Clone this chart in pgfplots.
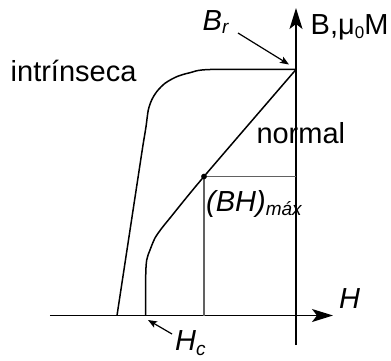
\documentclass[border=0pt]{standalone}
\usepackage{fontspec}
\setmainfont{Liberation Sans}
\usepackage{pgfplots}
\pgfplotsset{compat=1.18}
\usetikzlibrary{arrows.meta}

% demagnetisation curves in the second quadrant
\newcommand{\lbl}{\fontsize{29}{33}\selectfont}
\newcommand{\sub}[2][4pt]{\raisebox{-#1}{\fontsize{19}{19}\selectfont #2}}

\begin{document}
\begin{tikzpicture}
\begin{axis}[
  scale only axis,
  width=283pt, height=337pt,
  xmin=-246, xmax=37, ymin=-29.5, ymax=307.5,
  enlargelimits=false,
  axis lines=middle,
  axis line style={line width=1.6pt, -{Stealth[length=21pt,width=13pt,inset=5pt]}},
  ticks=none,
  clip=false,
]
% intrinsic curve (mu0 M)
\addplot[line width=1.5pt, smooth, tension=0.5] coordinates {
  (0,246) (-86,246) (-106,242.8) (-119.3,238.8) (-131,232.2) (-139.3,223.8)
  (-144.3,215.5) (-147.7,205.5) (-150,188.8) (-152.7,172.2) (-155.3,155.5)
  (-179,0)
};
% normal curve (B)
\addplot[line width=1.5pt, smooth, tension=0.5] coordinates {
  (0,246) (-92,139) (-126,97.5) (-134.3,87.2) (-141,77.5) (-146,65.5)
  (-149.3,55.5) (-150.3,38.8) (-150.3,0)
};
% (BH)max operating point
\addplot[line width=1.3pt, black!62] coordinates {(-92,0) (-92,139) (0,139)};
\addplot[only marks, mark=*, mark size=2.6pt, black] coordinates {(-92,139)};

% annotations
\draw[line width=1.2pt, -{Stealth[length=9pt,width=7pt,inset=2pt]}]
  (axis cs:-58,282.5) -- (axis cs:-7,251);
\draw[line width=1.2pt, -{Stealth[length=9pt,width=7pt,inset=2pt]}]
  (axis cs:-124,-18.5) -- (axis cs:-148,-4.5);

\node[anchor=base west, inner sep=0pt] at (axis cs:-93.5,285.5) {\lbl\itshape B\sub[3pt]{r}};
\node[anchor=base west, inner sep=0pt] at (axis cs:14.5,281.2) {\lbl B,μ\sub[4pt]{\fontsize{17}{17}\selectfont 0}M};
\node[anchor=base west, inner sep=0pt] at (axis cs:-285.5,233.8) {\lbl intrínseca};
\node[anchor=base west, inner sep=0pt] at (axis cs:-39.7,172.2) {\lbl normal};
\node[anchor=base west, inner sep=0pt] at (axis cs:-90,103.8) {\lbl\itshape (BH)\sub[4pt]{máx}};
\node[anchor=base west, inner sep=0pt] at (axis cs:43,7.2) {\lbl\itshape H};
\node[anchor=base west, inner sep=0pt] at (axis cs:-121,-34.5) {\lbl\itshape H\sub[5pt]{c}};

\coordinate (bl) at (axis cs:-296,-44.5);
\coordinate (tr) at (axis cs:95,315.5);
\end{axis}
\pgfresetboundingbox
\path[use as bounding box] (bl) rectangle (tr);
\end{tikzpicture}
\end{document}
